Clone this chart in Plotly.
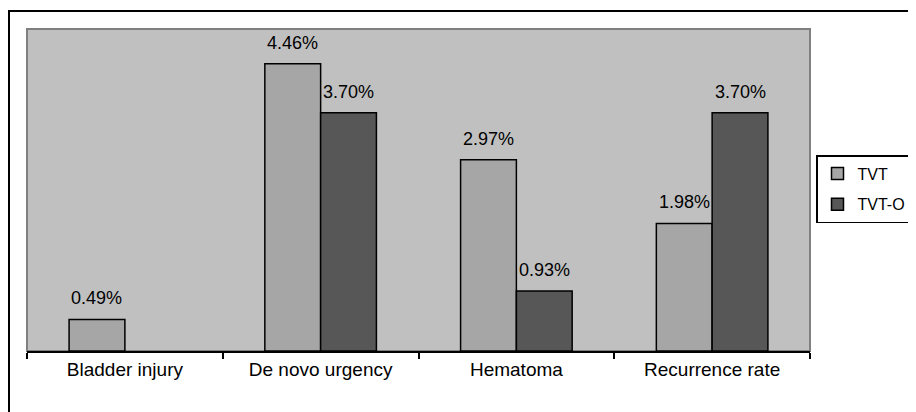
import plotly.graph_objects as go

categories = ["Bladder injury", "De novo urgency", "Hematoma", "Recurrence rate"]
tvt = [0.49, 4.46, 2.97, 1.98]
tvt_o = [0.0, 3.70, 0.93, 3.70]
series_names = ["TVT", "TVT-O"]

# The page body has an 8px margin, so the figure starts at (8, 8) on screen.
OFF = 8
W, H = 916 - OFF, 412 - OFF
ML, MR, MT, MB = 27 - OFF, 106, 29 - OFF, 61
plot_w = W - ML - MR
plot_h = H - MT - MB
BARGAP = 0.43
cat_px = plot_w / len(categories)
half_bar = cat_px * (1 - BARGAP) / 4  # center offset of each bar in a group

FONT = "Liberation Sans, Arial, sans-serif"


def shown(vals):  # zero-height bars are not drawn in the reference
    return [v if v > 0 else None for v in vals]


def sx(px):  # screen x -> paper x
    return (px - OFF - ML) / plot_w


def sy(py):  # screen y -> paper y
    return (H - MB - (py - OFF)) / plot_h


fig = go.Figure()
fig.add_trace(go.Bar(name=series_names[0], x=categories, y=shown(tvt), legendgroup="a",
                     marker=dict(color="#A6A6A6", line=dict(color="black", width=1.5))))
fig.add_trace(go.Bar(name=series_names[1], x=categories, y=shown(tvt_o), legendgroup="b",
                     marker=dict(color="#575757", line=dict(color="black", width=1.5))))

annotations = []
for vals, sign in ((tvt, -1), (tvt_o, 1)):
    for c, v in zip(categories, vals):
        if v <= 0:
            continue
        annotations.append(dict(x=c, y=v, xref="x", yref="y", text=f"{v:.2f}%",
                                showarrow=False, yanchor="bottom", xanchor="center",
                                xshift=sign * half_bar, yshift=9,
                                font=dict(family=FONT, size=18, color="black")))

shapes = [
    dict(type="rect", xref="paper", yref="paper", x0=0, x1=1, y0=0, y1=1,
         line=dict(color="#808080", width=2), layer="below"),
    dict(type="rect", xref="paper", yref="paper",
         x0=sx(9), x1=sx(940), y0=sy(440), y1=sy(11),
         line=dict(color="black", width=2), layer="above"),
]

fig.update_layout(
    width=W, height=H,
    margin=dict(l=ML, r=MR, t=MT, b=MB, pad=0, autoexpand=False),
    paper_bgcolor="white", plot_bgcolor="#C0C0C0",
    barmode="group", bargap=BARGAP, bargroupgap=0,
    font=dict(family=FONT, size=18, color="black"),
    showlegend=True,
    legend=dict(x=sx(816), y=sy(155),
                xanchor="left", yanchor="top",
                bgcolor="white", bordercolor="black", borderwidth=1.5,
                font=dict(family=FONT, size=16, color="black"),
                tracegroupgap=7, traceorder="grouped"),
    annotations=annotations,
    shapes=shapes,
)
fig.update_xaxes(showline=True, linecolor="black", linewidth=2,
                 ticks="outside", tickson="boundaries", ticklen=6,
                 tickcolor="black", tickwidth=1.5, showgrid=False,
                 tickfont=dict(family=FONT, size=19, color="black"))
fig.update_yaxes(range=[0, 5], visible=False, showgrid=False, zeroline=False)

fig.write_html("out.html")
